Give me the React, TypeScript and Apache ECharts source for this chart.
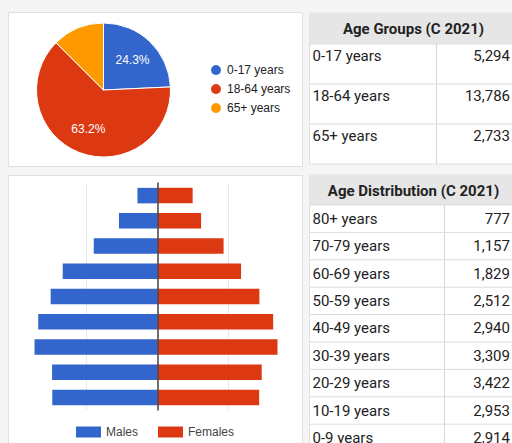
import React, { useEffect, useRef } from "react";
import * as echarts from "echarts";

// ---- data ----
const ageGroupLabels = ["0-17 years", "18-64 years", "65+ years"];
const ageGroupCounts = [5294, 13786, 2733];
const pieColors = ["#3366cc", "#dc3912", "#ff9900"];

const distLabels = [
  "80+ years",
  "70-79 years",
  "60-69 years",
  "50-59 years",
  "40-49 years",
  "30-39 years",
  "20-29 years",
  "10-19 years",
  "0-9 years",
];
const distCounts = [777, 1157, 1829, 2512, 2940, 3309, 3422, 2953, 2914];
const malesPop = [282, 543, 898, 1335, 1505, 1680, 1732, 1485, 1482];
const femalesPop = [495, 614, 931, 1177, 1435, 1629, 1690, 1468, 1432];
const sexLabels = ["Males", "Females"];
const sexColors = ["#3366cc", "#dc3912"];

const fmt = (v: number) => v.toLocaleString("en-US");

const TABLE_FONT = "Roboto";
const TEXT_COLOR = "#222";
const ARIAL = "Arial, 'Liberation Sans', sans-serif";

function tableGraphics(
  title: string,
  labels: string[],
  values: number[],
  x0: number,
  y0: number,
  headerH: number,
  rowH: number,
  colX: number,
  textTopOffset: number | null
) {
  const width = 212;
  const totalH = headerH + rowH * labels.length;
  const els: any[] = [];
  els.push({
    type: "rect",
    silent: true,
    z: -5,
    shape: { x: x0, y: y0, width, height: totalH },
    style: { fill: "#ffffff", stroke: "#e0e0e0", lineWidth: 1 },
  });
  els.push({
    type: "rect",
    silent: true,
    z: -4,
    shape: { x: x0, y: y0, width, height: headerH },
    style: { fill: "#e6e6e6" },
  });
  els.push({
    type: "text",
    silent: true,
    z: 5,
    x: x0 + 104,
    y: y0 + headerH / 2 + 0.5,
    style: {
      text: title,
      fontFamily: TABLE_FONT,
      fontSize: 15,
      fontWeight: "bold",
      fill: TEXT_COLOR,
      align: "center",
      verticalAlign: "middle",
    },
  });
  const bodyTop = y0 + headerH;
  els.push({
    type: "line",
    silent: true,
    z: -3,
    shape: { x1: colX, y1: bodyTop, x2: colX, y2: y0 + totalH },
    style: { stroke: "#d6d6d6", lineWidth: 1 },
  });
  labels.forEach((lab, i) => {
    const top = bodyTop + i * rowH;
    const ty = textTopOffset === null ? top + rowH / 2 : top + textTopOffset;
    els.push({
      type: "line",
      silent: true,
      z: -3,
      shape: { x1: x0, y1: top, x2: x0 + width, y2: top },
      style: { stroke: "#dcdcdc", lineWidth: 1 },
    });
    els.push({
      type: "text",
      silent: true,
      z: 5,
      x: x0 + 3,
      y: ty,
      style: {
        text: lab,
        fontFamily: TABLE_FONT,
        fontSize: 15,
        fill: TEXT_COLOR,
        align: "left",
        verticalAlign: "middle",
      },
    });
    els.push({
      type: "text",
      silent: true,
      z: 5,
      x: 510,
      y: ty,
      style: {
        text: fmt(values[i]),
        fontFamily: TABLE_FONT,
        fontSize: 15,
        fill: TEXT_COLOR,
        align: "right",
        verticalAlign: "middle",
      },
    });
  });
  return els;
}

export default function App() {
  const ref = useRef<HTMLDivElement>(null);

  useEffect(() => {
    if (!ref.current) return;
    const chart = echarts.init(ref.current, null, { renderer: "svg" });

    const pieData = ageGroupLabels.map((n, i) => ({
      name: n,
      value: ageGroupCounts[i],
    }));

    const graphic: any[] = [
      {
        type: "rect",
        silent: true,
        z: -10,
        shape: { x: 8.5, y: 12.5, width: 294, height: 154 },
        style: { fill: "#ffffff", stroke: "#e0e0e0", lineWidth: 1 },
      },
      {
        type: "rect",
        silent: true,
        z: -10,
        shape: { x: 8.5, y: 175.5, width: 294, height: 290 },
        style: { fill: "#ffffff", stroke: "#e0e0e0", lineWidth: 1 },
      },
      ...tableGraphics(
        "Age Groups (C 2021)",
        ageGroupLabels,
        ageGroupCounts,
        309.5,
        13,
        31,
        40,
        436.5,
        12
      ),
      ...tableGraphics(
        "Age Distribution (C 2021)",
        distLabels,
        distCounts,
        309.5,
        175,
        30,
        27.4,
        444.5,
        null
      ),
    ];

    chart.setOption({
      animation: false,
      backgroundColor: "#f5f5f5",
      graphic,
      legend: [
        {
          data: ageGroupLabels,
          orient: "vertical",
          left: 209,
          top: 63,
          padding: 0,
          icon: "circle",
          itemWidth: 12,
          itemHeight: 12,
          itemGap: 5,
          selectedMode: false,
          textStyle: { fontFamily: ARIAL, fontSize: 12, color: "#222" },
        },
        {
          data: sexLabels,
          orient: "horizontal",
          left: 76,
          top: 426,
          padding: 0,
          icon: "rect",
          itemWidth: 25,
          itemHeight: 11,
          itemGap: 20,
          selectedMode: false,
          textStyle: { fontFamily: ARIAL, fontSize: 12, color: "#444" },
        },
      ],
      grid: {
        left: 15.5,
        right: 212.5,
        top: 183,
        bottom: 33,
      },
      xAxis: {
        type: "value",
        min: -2000,
        max: 2000,
        interval: 1000,
        axisLabel: { show: false },
        axisTick: { show: false },
        axisLine: { show: false },
        splitLine: {
          show: true,
          showMinLine: false,
          showMaxLine: false,
          lineStyle: { color: "#e8e8e8", width: 1 },
        },
      },
      yAxis: {
        type: "category",
        inverse: true,
        data: distLabels,
        axisLabel: { show: false },
        axisTick: { show: false },
        axisLine: {
          show: true,
          onZero: true,
          lineStyle: { color: "#444", width: 1.5 },
        },
        splitLine: { show: false },
        z: 5,
      },
      series: [
        {
          type: "pie",
          name: "Age Groups",
          center: [103.5, 90],
          radius: 67,
          startAngle: 90,
          clockwise: true,
          data: pieData,
          color: pieColors,
          label: { show: false },
          labelLine: { show: false },
          itemStyle: { borderColor: "#ffffff", borderWidth: 1 },
          silent: true,
        },
        {
          type: "pie",
          name: "labels",
          center: [103.5, 90],
          radius: 78,
          startAngle: 90,
          clockwise: true,
          data: pieData,
          silent: true,
          legendHoverLink: false,
          itemStyle: { color: "rgba(0,0,0,0)" },
          labelLine: { show: false },
          z: 4,
          label: {
            show: true,
            position: "inside",
            color: "#ffffff",
            fontFamily: ARIAL,
            fontSize: 12,
            formatter: (p: any) =>
              p.percent >= 15 ? p.percent.toFixed(1) + "%" : "",
          },
        },
        {
          type: "bar",
          name: sexLabels[0],
          data: malesPop.map((v) => -v),
          barWidth: 15.5,
          barGap: "-100%",
          itemStyle: { color: sexColors[0] },
          silent: true,
        },
        {
          type: "bar",
          name: sexLabels[1],
          data: femalesPop,
          barWidth: 15.5,
          barGap: "-100%",
          itemStyle: { color: sexColors[1] },
          silent: true,
        },
      ],
    });

    return () => chart.dispose();
  }, []);

  return (
    <div
      ref={ref}
      style={{
        position: "fixed",
        left: 0,
        top: 0,
        width: 512,
        height: 443,
      }}
    />
  );
}
